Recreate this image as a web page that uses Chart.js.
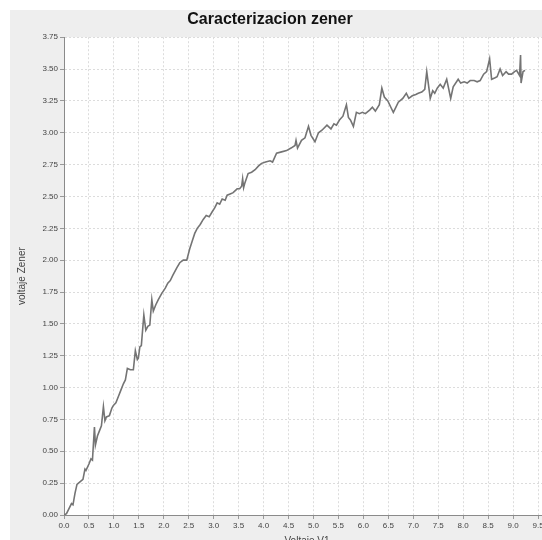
<!DOCTYPE html>
<html>
<head>
<meta charset="utf-8">
<title>Caracterizacion zener</title>
<script src="https://cdn.jsdelivr.net/npm/chart.js@4.4.1/dist/chart.umd.min.js"></script>
<style>
  html, body { margin: 0; padding: 0; background: #fff; overflow: hidden; }
  body { width: 542px; height: 540px; position: relative; }
  #frame { position: absolute; left: 10px; top: 10px; width: 540px; height: 540px; background: #eeeeee; }
  #wrap { position: absolute; left: -10px; top: 0; width: 560px; height: 550px; }
</style>
</head>
<body>
<div id="frame"></div>
<div id="wrap"><canvas id="zenerChart" width="560" height="550"></canvas></div>
<script>
// voltaje V1 (x) and voltaje Zener (y)
const voltajeV1 = [
  0.00, 0.05, 0.10, 0.15, 0.18, 0.22, 0.26, 0.32, 0.38, 0.42,
  0.44, 0.50, 0.54, 0.57, 0.61, 0.63, 0.67, 0.71, 0.75, 0.79,
  0.82, 0.85, 0.91, 0.96, 0.99, 1.04, 1.09, 1.14, 1.19, 1.23,
  1.27, 1.33, 1.39, 1.43, 1.47, 1.49, 1.52, 1.55, 1.60, 1.64,
  1.68, 1.72, 1.76, 1.79, 1.84, 1.89, 1.96, 2.03, 2.08, 2.13,
  2.18, 2.26, 2.32, 2.39, 2.46, 2.52, 2.57, 2.62, 2.67, 2.73,
  2.79, 2.85, 2.91, 2.97, 3.02, 3.07, 3.12, 3.17, 3.23, 3.27,
  3.33, 3.39, 3.47, 3.52, 3.56, 3.58, 3.60, 3.62, 3.69, 3.76,
  3.83, 3.90, 3.96, 4.04, 4.13, 4.18, 4.26, 4.36, 4.46, 4.55,
  4.63, 4.65, 4.68, 4.76, 4.83, 4.90, 4.95, 5.03, 5.10, 5.17,
  5.27, 5.35, 5.41, 5.46, 5.52, 5.59, 5.66, 5.70, 5.74, 5.80,
  5.86, 5.92, 5.98, 6.04, 6.13, 6.18, 6.24, 6.32, 6.37, 6.42,
  6.49, 6.55, 6.60, 6.65, 6.70, 6.79, 6.86, 6.91, 6.98, 7.05,
  7.10, 7.17, 7.23, 7.27, 7.34, 7.39, 7.43, 7.48, 7.54, 7.60,
  7.67, 7.75, 7.80, 7.90, 7.95, 8.02, 8.08, 8.14, 8.22, 8.28,
  8.34, 8.41, 8.47, 8.53, 8.57, 8.63, 8.68, 8.74, 8.79, 8.86,
  8.91, 8.97, 9.03, 9.07, 9.13, 9.15, 9.16, 9.20, 9.24
];

const voltajeZener = [
  0.00, 0.01, 0.05, 0.09, 0.08, 0.17, 0.24, 0.26, 0.28, 0.36,
  0.35, 0.40, 0.44, 0.43, 0.69, 0.55, 0.62, 0.66, 0.70, 0.85,
  0.74, 0.77, 0.78, 0.84, 0.86, 0.88, 0.93, 0.98, 1.03, 1.06,
  1.15, 1.14, 1.14, 1.29, 1.22, 1.23, 1.32, 1.33, 1.57, 1.45,
  1.48, 1.49, 1.69, 1.60, 1.65, 1.69, 1.74, 1.78, 1.82, 1.84,
  1.88, 1.94, 1.98, 2.00, 2.00, 2.09, 2.15, 2.21, 2.25, 2.28,
  2.32, 2.35, 2.34, 2.38, 2.41, 2.45, 2.44, 2.48, 2.47, 2.51,
  2.52, 2.53, 2.56, 2.56, 2.58, 2.64, 2.57, 2.60, 2.68, 2.69,
  2.71, 2.74, 2.76, 2.77, 2.78, 2.77, 2.84, 2.85, 2.86, 2.88,
  2.90, 2.94, 2.88, 2.94, 2.96, 3.05, 2.98, 2.93, 3.00, 3.02,
  3.06, 3.03, 3.07, 3.06, 3.10, 3.13, 3.22, 3.12, 3.10, 3.05,
  3.16, 3.15, 3.16, 3.15, 3.18, 3.20, 3.17, 3.22, 3.35, 3.28,
  3.25, 3.20, 3.16, 3.20, 3.24, 3.27, 3.31, 3.27, 3.29, 3.30,
  3.31, 3.32, 3.34, 3.48, 3.27, 3.33, 3.31, 3.35, 3.38, 3.35,
  3.42, 3.27, 3.36, 3.42, 3.39, 3.40, 3.39, 3.41, 3.41, 3.40,
  3.41, 3.46, 3.48, 3.58, 3.42, 3.43, 3.44, 3.50, 3.45, 3.48,
  3.46, 3.46, 3.48, 3.49, 3.45, 3.61, 3.39, 3.48, 3.49
];

const xTickStep = 0.5;
const yTickStep = 0.25;

// white plot area on the grey frame
const plotBackground = {
  id: 'plotBackground',
  beforeDraw(chart) {
    const { ctx, chartArea: a } = chart;
    ctx.save();
    ctx.fillStyle = '#ffffff';
    ctx.fillRect(a.left, a.top, a.right - a.left, a.bottom - a.top);
    ctx.restore();
  },
};

const tickFont = { family: 'Liberation Sans, Arial, sans-serif', size: 8 };
const axisTitleFont = { family: 'Liberation Sans, Arial, sans-serif', size: 10 };

new Chart(document.getElementById('zenerChart').getContext('2d'), {
  type: 'scatter',
  data: {
    datasets: [
      {
        label: 'voltaje Zener',
        data: voltajeV1.map((x, i) => ({ x: x, y: voltajeZener[i] })),
        showLine: true,
        borderColor: '#747474',
        borderWidth: 1.6,
        pointRadius: 0,
        tension: 0,
      },
    ],
  },
  options: {
    responsive: false,
    animation: false,
    layout: { padding: { left: 0, top: 10, right: 0, bottom: 0 } },
    plugins: {
      legend: { display: false },
      tooltip: { enabled: false },
      title: {
        display: true,
        text: 'Caracterizacion zener',
        color: '#111',
        font: { family: 'Liberation Sans, Arial, sans-serif', size: 16, weight: 'bold' },
        padding: { top: 0, bottom: 8 },
      },
    },
    scales: {
      x: {
        type: 'linear',
        min: 0,
        max: 9.74,
        afterFit: (scale) => { scale.height = 35; },
        ticks: {
          stepSize: xTickStep,
          includeBounds: false,
          autoSkip: false,
          maxRotation: 0,
          padding: 2,
          color: '#444',
          font: tickFont,
          callback: (v) => v.toFixed(1),
        },
        grid: { color: '#dcdcdc', tickLength: 4, tickColor: '#999' },
        border: { color: '#8a8a8a', width: 1, dash: [2, 2] },
        title: { display: true, text: 'Voltaje V1', color: '#444', font: axisTitleFont, padding: { top: 0, bottom: 3 } },
      },
      y: {
        min: 0,
        max: 3.75,
        afterFit: (scale) => { scale.width = 74; },
        ticks: {
          stepSize: yTickStep,
          padding: 2,
          color: '#444',
          font: tickFont,
          callback: (v) => v.toFixed(2),
        },
        grid: { color: '#dcdcdc', tickLength: 4, tickColor: '#999' },
        border: { color: '#8a8a8a', width: 1, dash: [2, 2] },
        title: { display: true, text: 'voltaje Zener', color: '#444', font: axisTitleFont, padding: { top: 26, bottom: 0 } },
      },
    },
  },
  plugins: [plotBackground],
});
</script>
</body>
</html>
